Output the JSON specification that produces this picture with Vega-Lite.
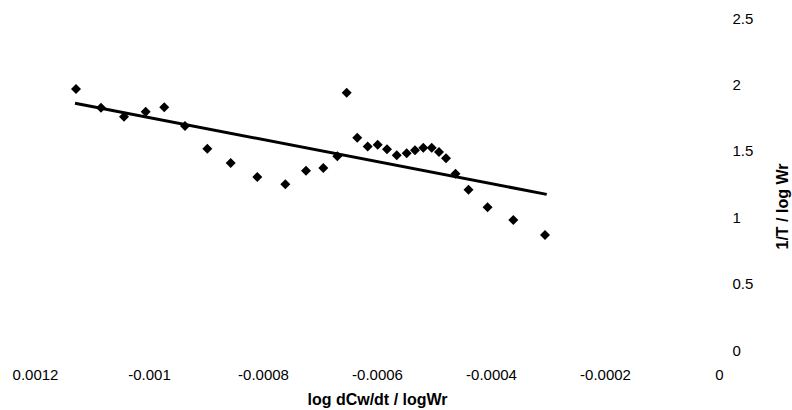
{
  "$schema": "https://vega.github.io/schema/vega-lite/v6.json",
  "width": 684,
  "height": 332,
  "autosize": {"type": "none"},
  "padding": {"left": 35, "top": 18, "right": 73, "bottom": 60},
  "background": "white",
  "config": {
    "view": {"stroke": null},
    "font": "Liberation Sans",
    "axis": {"labelColor": "#000000", "titleColor": "#000000", "labelFont": "Liberation Sans", "titleFont": "Liberation Sans"}
  },
  "datasets": {
    "pts": [
      {"x": -0.0011281, "y": 1.965},
      {"x": -0.0010842, "y": 1.825},
      {"x": -0.0010439, "y": 1.757},
      {"x": -0.0010058, "y": 1.794},
      {"x": -0.0009732, "y": 1.828},
      {"x": -0.0009368, "y": 1.687},
      {"x": -0.0008977, "y": 1.516},
      {"x": -0.0008567, "y": 1.408},
      {"x": -0.0008100, "y": 1.303},
      {"x": -0.0007609, "y": 1.248},
      {"x": -0.0007246, "y": 1.350},
      {"x": -0.0006942, "y": 1.370},
      {"x": -0.0006696, "y": 1.459},
      {"x": -0.0006532, "y": 1.938},
      {"x": -0.0006346, "y": 1.599},
      {"x": -0.0006163, "y": 1.532},
      {"x": -0.0005988, "y": 1.546},
      {"x": -0.0005825, "y": 1.512},
      {"x": -0.0005653, "y": 1.467},
      {"x": -0.0005479, "y": 1.481},
      {"x": -0.0005333, "y": 1.504},
      {"x": -0.0005188, "y": 1.523},
      {"x": -0.0005040, "y": 1.523},
      {"x": -0.0004912, "y": 1.491},
      {"x": -0.0004789, "y": 1.443},
      {"x": -0.0004623, "y": 1.328},
      {"x": -0.0004395, "y": 1.207},
      {"x": -0.0004060, "y": 1.075},
      {"x": -0.0003609, "y": 0.979},
      {"x": -0.0003053, "y": 0.866}
    ],
    "trend": [
      {"x": -0.0011298, "y": 1.858},
      {"x": -0.0003023, "y": 1.172}
    ]
  },
  "layer": [
    {
      "data": {"name": "trend"},
      "mark": {"type": "line", "color": "#000000", "strokeWidth": 3},
      "encoding": {
        "x": {
          "field": "x", "type": "quantitative",
          "scale": {"domain": [-0.0012, 0], "nice": false, "zero": false},
          "axis": {
            "orient": "bottom",
            "values": [-0.0012, -0.001, -0.0008, -0.0006, -0.0004, -0.0002, 0],
            "labelExpr": "datum.value < -0.00115 ? '0.0012' : toString(datum.value)",
            "domain": false, "ticks": false, "grid": false,
            "labelFontSize": 15, "labelPadding": 17, "labelFlush": false,
            "title": "log dCw/dt / logWr",
            "titleFontSize": 16, "titleFontWeight": "bold", "titlePadding": 9
          }
        },
        "y": {
          "field": "y", "type": "quantitative",
          "scale": {"domain": [0, 2.5], "nice": false, "zero": false},
          "axis": {
            "orient": "right",
            "values": [0, 0.5, 1, 1.5, 2, 2.5],
            "format": ".1~f",
            "domain": false, "ticks": false, "grid": false,
            "labelFontSize": 15, "labelPadding": 13, "labelAlign": "left", "labelFlush": false,
            "title": "1/T / log Wr",
            "titleFontSize": 16, "titleFontWeight": "bold",
            "titleAngle": 270, "titleX": 63, "titleY": 188,
            "titleAlign": "center", "titleBaseline": "middle"
          }
        }
      }
    },
    {
      "data": {"name": "pts"},
      "mark": {"type": "point", "shape": "diamond", "filled": true, "color": "#000000", "opacity": 1, "size": 100},
      "encoding": {
        "x": {"field": "x", "type": "quantitative"},
        "y": {"field": "y", "type": "quantitative"}
      }
    }
  ]
}
